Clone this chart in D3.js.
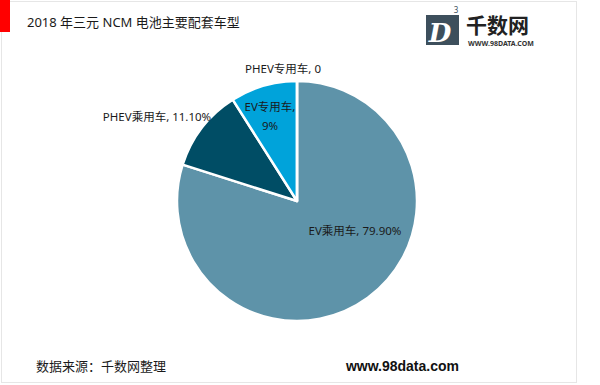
<!DOCTYPE html>
<html>
<head>
<meta charset="utf-8">
<script src="https://cdn.jsdelivr.net/npm/d3@7"></script>
<style>
  body { margin: 0; background: #fff; }
  text { font-family: "Noto Sans", "Noto Sans CJK SC", sans-serif; }
</style>
</head>
<body>
<div id="chart"></div>
<script>
const categories = ["EV乘用车", "PHEV乘用车", "EV专用车", "PHEV专用车"];
const values = [79.9, 11.1, 9, 0];
const labelTexts = ["EV乘用车, 79.90%", "PHEV乘用车, 11.10%", ["EV专用车,", "9%"], "PHEV专用车, 0"];
const sliceColors = ["#5e93a9", "#004d65", "#00a3da", "#7f7f7f"];

const width = 600, height = 385;
const cx = 297, cy = 201, radius = 120;

const svg = d3.select("#chart").append("svg")
    .attr("width", width)
    .attr("height", height);

// frame
svg.append("rect")
    .attr("x", 1.5).attr("y", 1.5)
    .attr("width", 575).attr("height", 381)
    .attr("fill", "none")
    .attr("stroke", "#e6e6e6")
    .attr("stroke-width", 1);

svg.append("rect")
    .attr("x", 0).attr("y", 0)
    .attr("width", 10).attr("height", 32)
    .attr("fill", "#ff0000");

svg.append("text")
    .attr("x", 27).attr("y", 27)
    .style("font-size", "13px")
    .attr("fill", "#1a1a1a")
    .text("2018 年三元 NCM 电池主要配套车型");

// logo
const logo = svg.append("g");
logo.append("rect")
    .attr("x", 426).attr("y", 15)
    .attr("width", 33).attr("height", 30)
    .attr("fill", "#3d4f5c");
logo.append("text")
    .attr("x", 440).attr("y", 42)
    .attr("text-anchor", "middle")
    .style("font-size", "26px")
    .style("font-style", "italic")
    .style("font-weight", "bold")
    .attr("fill", "#fff")
    .style("font-family", "DejaVu Serif")
    .text("D");
logo.append("text")
    .attr("x", 456).attr("y", 13)
    .attr("text-anchor", "middle")
    .style("font-size", "8px")
    .attr("fill", "#3d4f5c")
    .text("3");
logo.append("text")
    .attr("x", 466).attr("y", 33)
    .style("font-size", "21px")
    .style("font-weight", "bold")
    .attr("fill", "#222")
    .text("千数网");
logo.append("text")
    .attr("x", 468).attr("y", 46)
    .style("font-size", "7px")
    .style("font-weight", "bold")
    .attr("fill", "#333")
    .text("WWW.98DATA.COM");

const pie = d3.pie().sort(null).value(d => d);
const arcs = pie(values);
const arc = d3.arc().innerRadius(0).outerRadius(radius);

const g = svg.append("g").attr("transform", `translate(${cx},${cy})`);

g.selectAll("path")
    .data(arcs).enter().append("path")
    .attr("d", arc)
    .attr("fill", (d, i) => sliceColors[i])
    .attr("stroke", "#fff")
    .attr("stroke-width", 2.5)
    .attr("stroke-linejoin", "round");

// labels
const labelPos = [[58, 34], [-140, -80], [-27, -90], [-14, -128]];

labelTexts.forEach((t, i) => {
    const lines = Array.isArray(t) ? t : [t];
    const txt = g.append("text")
        .attr("text-anchor", "middle")
        .style("font-size", "11.5px")
        .attr("fill", "#1a1a1a");
    lines.forEach((ln, j) => {
        txt.append("tspan")
            .attr("x", labelPos[i][0])
            .attr("y", labelPos[i][1] + j * 19)
            .text(ln);
    });
});

svg.append("text")
    .attr("x", 36).attr("y", 371)
    .style("font-size", "13px")
    .attr("fill", "#1a1a1a")
    .text("数据来源：千数网整理");

svg.append("text")
    .attr("x", 459).attr("y", 371)
    .attr("text-anchor", "end")
    .style("font-size", "14px")
    .style("font-weight", "bold")
    .attr("fill", "#111")
    .style("font-family", "Liberation Sans, Arial, sans-serif")
    .text("www.98data.com");
</script>
</body>
</html>
